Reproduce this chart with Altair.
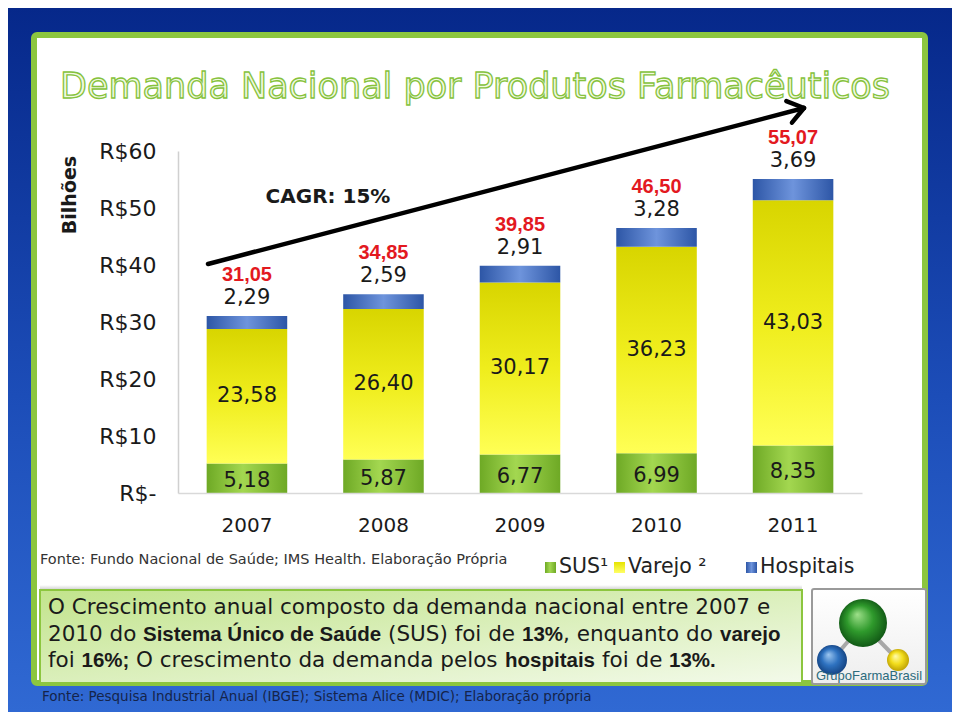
import altair as alt
import pandas as pd
import numpy as np

# ---------------- data ----------------
anos = ["2007", "2008", "2009", "2010", "2011"]
sus = [5.18, 5.87, 6.77, 6.99, 8.35]
varejo = [23.58, 26.40, 30.17, 36.23, 43.03]
hospitais = [2.29, 2.59, 2.91, 3.28, 3.69]
totais = [31.05, 34.85, 39.85, 46.50, 55.07]
series = ["SUS¹", "Varejo ²", "Hospitais"]
y_ticks = [0, 10, 20, 30, 40, 50, 60]

titulo = "Demanda Nacional por Produtos Farmacêuticos"
eixo_y = "Bilhões"
cagr = "CAGR: 15%"
fonte_grafico = "Fonte: Fundo Nacional de Saúde; IMS Health. Elaboração Própria"
fonte_rodape = "Fonte: Pesquisa Industrial Anual  (IBGE); Sistema Alice (MDIC);  Elaboração própria"
logo_txt = "GrupoFarmaBrasil"
# text box runs: (text, bold)
linha1 = [("O Crescimento anual composto da demanda nacional entre 2007 e", False)]
linha2 = [("2010 do", False), ("Sistema Único de Saúde", True), ("(SUS) foi de", False),
          ("13%", True), (", enquanto do", False), ("varejo", True)]
linha3 = [("foi", False), ("16%;", True), ("O crescimento da demanda pelos", False),
          ("hospitais", True), ("foi de", False), ("13%.", True)]

df = pd.DataFrame({"ano": anos, "sus": sus, "varejo": varejo,
                   "hosp": hospitais, "total": totais})

# ---------------- layout ----------------
PLOT_W, PLOT_H = 684, 342
PAD_L, PAD_T = 170, 143
CANVAS_W, CANVAS_H = 944, 704
PAD_R = CANVAS_W - PAD_L - PLOT_W
PAD_B = CANVAS_H - PAD_T - PLOT_H
OX, OY = 8 + PAD_L, 8 + PAD_T   # page position of plot origin


def X(px):
    return px - OX


def Y(py):
    return py - OY


one = pd.DataFrame({"k": [0]})
FONT = "DejaVu Sans"
BOLD_FONT = "Liberation Sans"
INK = "#1a1a1a"


def lin(stops, x1=0, y1=0, x2=1, y2=0):
    return alt.LinearGradient(gradient="linear",
                              stops=[alt.GradientStop(color=c, offset=o) for o, c in stops],
                              x1=x1, y1=y1, x2=x2, y2=y2)


def rad(stops):
    return alt.RadialGradient(gradient="radial",
                              stops=[alt.GradientStop(color=c, offset=o) for o, c in stops],
                              x1=0.38, y1=0.32, r1=0, x2=0.5, y2=0.5, r2=0.55)


def rect(x1, y1, x2, y2, **kw):
    return alt.Chart(one).mark_rect(**kw).encode(
        x=alt.value(X(x1)), x2=alt.value(X(x2)), y=alt.value(Y(y1)), y2=alt.value(Y(y2)))


def line(x1, y1, x2, y2, **kw):
    return alt.Chart(one).mark_rule(**kw).encode(
        x=alt.value(X(x1)), x2=alt.value(X(x2)), y=alt.value(Y(y1)), y2=alt.value(Y(y2)))


def txt(s, x, y, size, color=INK, bold=False, font=FONT, align="left",
        baseline="middle", **kw):
    return alt.Chart(one).mark_text(
        text=s, fontSize=size, font=font, fontWeight="bold" if bold else "normal",
        align=align, baseline=baseline, **kw).encode(
        x=alt.value(X(x)), y=alt.value(Y(y)), color=alt.value(color))


layers = []

# slide background and white panel
layers.append(rect(8, 8, 952, 712, fill=lin([(0, "#06288a"), (0.55, "#1c4db8"), (1, "#3069d3")],
                                              x1=0, y1=0, x2=0, y2=1)))
layers.append(rect(34, 35, 925, 683, fill="#ffffff", stroke="#8cc63f", strokeWidth=6,
                   cornerRadius=3))

# title with outline
layers.append(alt.Chart(one).mark_text(
    text=titulo, fontSize=35, font=FONT, align="center", baseline="alphabetic",
    fill="#f1f9e2", stroke="#86c23c", strokeWidth=1.3).encode(
    x=alt.value(X(475)), y=alt.value(Y(98))))

layers.append(txt(eixo_y, 70, 195, 19, bold=True, align="center", angle=270))

# ---------------- bars ----------------
fmt = "replace(format({}, '.2f'), '.', ',')"
base = alt.Chart(df).transform_calculate(
    s0="0",
    s1="datum.sus",
    s2="datum.sus + datum.varejo",
    s3="datum.sus + datum.varejo + datum.hosp",
    m_sus="datum.sus / 2",
    m_var="datum.sus + datum.varejo / 2",
    t_sus=fmt.format("datum.sus"),
    t_var=fmt.format("datum.varejo"),
    t_hosp=fmt.format("datum.hosp"),
    t_tot=fmt.format("datum.total"),
)

x_main = alt.X("ano:N", title=None, sort=anos,
               scale=alt.Scale(paddingInner=0.41, paddingOuter=0.21),
               axis=alt.Axis(labelAngle=0, labelFont=FONT, labelFontSize=20,
                             labelColor=INK, labelPadding=22, ticks=False,
                             domainColor="#d9d9d9", domainWidth=1.5, zindex=1))
x_plain = alt.X("ano:N", title=None, sort=anos)
y_main = alt.Y("s0:Q", title=None,
               scale=alt.Scale(domain=[0, 60], nice=False),
               axis=alt.Axis(values=y_ticks,
                             labelExpr="datum.value == 0 ? 'R$-' : 'R$' + datum.value",
                             labelFont=FONT, labelFontSize=22, labelColor=INK,
                             labelPadding=22, ticks=False, grid=False,
                             domainColor="#d0d0d0", domainWidth=1.5, zindex=1))

g_green = lin([(0, "#6ea925"), (0.45, "#a3d750"), (1, "#6ea925")])
g_yellow = lin([(0, "#d8d500"), (0.5, "#efed1c"), (1, "#ffff55")], x1=0, y1=0, x2=0, y2=1)
g_blue = lin([(0, "#2d56a6"), (0.5, "#6e94dc"), (1, "#2d56a6")])

layers.append(base.mark_bar(fill=g_green).encode(x=x_main, y=y_main, y2=alt.Y2("s1")))
layers.append(base.mark_bar(fill=g_yellow).encode(
    x=x_plain, y=alt.Y("s1:Q", title=None), y2=alt.Y2("s2")))
layers.append(base.mark_bar(fill=g_blue).encode(
    x=x_plain, y=alt.Y("s2:Q", title=None), y2=alt.Y2("s3")))

lab = dict(font=FONT, fontSize=21, baseline="middle")
layers.append(base.mark_text(color=INK, dy=3, **lab).encode(
    x=x_plain, y=alt.Y("m_sus:Q", title=None), text="t_sus:N"))
layers.append(base.mark_text(color=INK, **lab).encode(
    x=x_plain, y=alt.Y("m_var:Q", title=None), text="t_var:N"))
layers.append(base.mark_text(color=INK, dy=-18, **lab).encode(
    x=x_plain, y=alt.Y("s3:Q", title=None), text="t_hosp:N"))
layers.append(base.mark_text(color="#e3191f", dy=-41, font=BOLD_FONT, fontSize=20,
                             fontWeight="bold", baseline="middle").encode(
    x=x_plain, y=alt.Y("s3:Q", title=None), text="t_tot:N"))

# ---------------- CAGR arrow ----------------
start = np.array([208.0, 264.0])
tip = np.array([804.0, 108.0])
layers.append(line(start[0], start[1], tip[0], tip[1], stroke="#000000", strokeWidth=4.5,
                   strokeCap="round"))
back = (start - tip) / np.linalg.norm(start - tip)
for ang in (np.radians(36), -np.radians(36)):
    c, s = np.cos(ang), np.sin(ang)
    d = np.array([back[0] * c - back[1] * s, back[0] * s + back[1] * c]) * 19
    layers.append(line(tip[0], tip[1], tip[0] + d[0], tip[1] + d[1], stroke="#000000",
                       strokeWidth=4.5, strokeCap="round"))
layers.append(txt(cagr, 328, 197, 20, bold=True, align="center"))

# ---------------- legend & source ----------------
leg_fill = [g_green, lin([(0, "#e6e300"), (1, "#ffff66")], x1=0, y1=0, x2=0, y2=1), g_blue]
leg_x = [545, 614, 746]
for name, fill, lx in zip(series, leg_fill, leg_x):
    layers.append(rect(lx, 562, lx + 11, 573, fill=fill))
    layers.append(txt(name, lx + 14, 567, 20.5, color="#222222"))
layers.append(txt(fonte_grafico, 40, 560, 14.5, color="#333333"))
layers.append(txt(fonte_rodape, 42, 697, 13.5, color="#15244a"))

# ---------------- text box ----------------
layers.append(rect(40, 585, 802, 592, fill=lin([(0, "#ffffff"), (1, "#b8b8b8")],
                                                x1=0, y1=0, x2=0, y2=1)))
layers.append(rect(40, 590, 802, 683, fill=lin([(0, "#c2e48c"), (1, "#f3faea")],
                                                x1=0, y1=0, x2=1, y2=1),
                   stroke="#8cc63f", strokeWidth=2))
run_x2 = [48, 143, 388, 522, 563, 720]
run_x3 = [48, 81.5, 136, 505, 602, 669]
layers.append(txt(linha1[0][0], 48, 614, 21.5, baseline="alphabetic"))
for (s, b), xx in zip(linha2, run_x2):
    layers.append(txt(s, xx, 641, 20.5 if b else 21.5, bold=b,
                      font=BOLD_FONT if b else FONT, baseline="alphabetic"))
for (s, b), xx in zip(linha3, run_x3):
    layers.append(txt(s, xx, 667, 20.5 if b else 21.5, bold=b,
                      font=BOLD_FONT if b else FONT, baseline="alphabetic"))

# ---------------- logo ----------------
layers.append(rect(812, 589, 926, 684, fill=lin([(0, "#ffffff"), (1, "#eeeeee")],
                                                 x1=0, y1=0, x2=0, y2=1),
                   stroke="#9a9a9a", strokeWidth=2, cornerRadius=2))
layers.append(line(863, 624, 832, 660, stroke="#a8a8a8", strokeWidth=4))
layers.append(line(863, 624, 898, 660, stroke="#a8a8a8", strokeWidth=4))
for cx, cy, dia, stops in [
    (863, 623, 48, [(0, "#9ee08a"), (0.5, "#2f9a2c"), (1, "#0d4f12")]),
    (832, 660, 30, [(0, "#9cc6f0"), (0.5, "#2e72c0"), (1, "#113d7a")]),
    (898, 660, 22, [(0, "#fffbb0"), (0.5, "#f3de1c"), (1, "#b89a00")]),
]:
    layers.append(alt.Chart(one).mark_point(shape="circle", filled=True, size=dia * dia,
                                            fill=rad(stops), opacity=1).encode(
        x=alt.value(X(cx)), y=alt.value(Y(cy))))
layers.append(txt(logo_txt, 869, 676, 13, color="#2c6b7d", font="Liberation Sans",
                  align="center"))

chart = alt.layer(*layers).properties(
    width=PLOT_W, height=PLOT_H,
    padding={"left": PAD_L, "top": PAD_T, "right": PAD_R, "bottom": PAD_B},
    autosize=alt.AutoSizeParams(type="none"),
    background="#1b48b2",
).configure_view(stroke=None)

chart.save("out.html", embed_options={"renderer": "svg", "actions": False})
